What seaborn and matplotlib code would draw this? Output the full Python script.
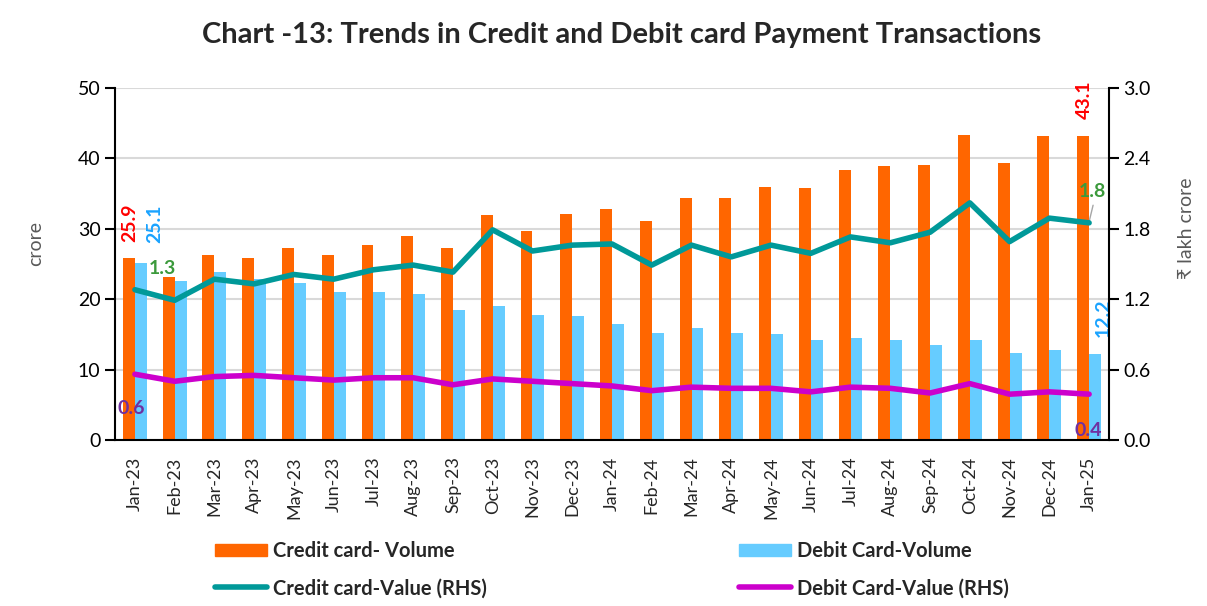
import os

os.makedirs(".matplotlib", exist_ok=True)
os.environ["MPLCONFIGDIR"] = os.path.abspath(".matplotlib")

import numpy as np
import pandas as pd
import seaborn as sns

import matplotlib.pyplot as plt
from matplotlib.lines import Line2D
from matplotlib.patches import Patch

plt.switch_backend("Agg")

# Chart data
months = [
    "Jan-23", "Feb-23", "Mar-23", "Apr-23", "May-23", "Jun-23", "Jul-23", "Aug-23",
    "Sep-23", "Oct-23", "Nov-23", "Dec-23", "Jan-24", "Feb-24", "Mar-24", "Apr-24",
    "May-24", "Jun-24", "Jul-24", "Aug-24", "Sep-24", "Oct-24", "Nov-24", "Dec-24",
    "Jan-25",
]
credit_volume = [
    25.9, 23.2, 26.3, 25.9, 27.3, 26.3, 27.7, 29.0, 27.3, 32.0, 29.7, 32.1, 32.8,
    31.1, 34.4, 34.4, 35.9, 35.8, 38.4, 38.9, 39.1, 43.3, 39.3, 43.2, 43.1,
]
debit_volume = [
    25.1, 22.6, 23.8, 22.9, 22.3, 21.0, 21.0, 20.7, 18.4, 19.0, 17.7, 17.6, 16.4,
    15.2, 15.9, 15.2, 15.0, 14.2, 14.5, 14.2, 13.5, 14.2, 12.3, 12.8, 12.2,
]
credit_value = [
    1.28, 1.19, 1.37, 1.33, 1.41, 1.37, 1.45, 1.49, 1.43, 1.79, 1.61, 1.66, 1.67,
    1.49, 1.66, 1.56, 1.66, 1.59, 1.73, 1.68, 1.77, 2.02, 1.69, 1.89, 1.85,
]
debit_value = [
    0.56, 0.50, 0.54, 0.55, 0.53, 0.51, 0.53, 0.53, 0.47, 0.52, 0.50, 0.48, 0.46,
    0.42, 0.45, 0.44, 0.44, 0.41, 0.45, 0.44, 0.40, 0.48, 0.39, 0.41, 0.39,
]

series_names = ["Credit card- Volume", "Debit Card-Volume",
                "Credit card-Value (RHS)", "Debit Card-Value (RHS)"]
ORANGE = "#FF6600"
SKY = "#66CCFF"
TEAL = "#009999"
MAGENTA = "#CC00CC"


def main():
    sns.set_theme(style="white")
    plt.rcParams["font.family"] = ["Lato", "DejaVu Sans"]

    vol_df = pd.DataFrame({
        "Month": months * 2,
        "Volume": credit_volume + debit_volume,
        "Series": [series_names[0]] * len(months) + [series_names[1]] * len(months),
    })
    val_df = pd.DataFrame({
        "Month": months,
        "Credit": credit_value,
        "Debit": debit_value,
    })

    fig = plt.figure(figsize=(12.07, 6.06), dpi=100)
    ax = fig.add_axes([0.0953, 0.274, 0.8235, 0.581])

    sns.barplot(data=vol_df, x="Month", y="Volume", hue="Series",
                palette=[ORANGE, SKY], width=0.6, ax=ax, legend=False,
                saturation=1, linewidth=0, zorder=2)

    ax2 = ax.twinx()
    sns.lineplot(data=val_df, x="Month", y="Credit", color=TEAL, lw=4,
                 sort=False, ax=ax2, zorder=3)
    sns.lineplot(data=val_df, x="Month", y="Debit", color=MAGENTA, lw=4,
                 sort=False, ax=ax2, zorder=3)

    ax.set_xlim(-0.5, len(months) - 0.5)
    ax.set_ylim(0, 50)
    ax.set_yticks(np.arange(0, 51, 10))
    ax2.set_ylim(0, 3.0)
    ax2.set_yticks(np.arange(0, 3.01, 0.6))
    ax2.set_yticklabels([f"{v:.1f}" for v in np.arange(0, 3.01, 0.6)])

    ax.yaxis.grid(True, color="#D9D9D9", lw=1.5)
    ax.set_axisbelow(True)
    for a in (ax, ax2):
        a.spines["top"].set_visible(False)
        for s in ("left", "right", "bottom"):
            a.spines[s].set_color("black")
            a.spines[s].set_linewidth(1.5)
    ax.spines["right"].set_visible(False)
    ax2.spines["left"].set_visible(False)
    ax2.spines["bottom"].set_visible(False)

    ax.tick_params(axis="y", which="major", left=True, length=7, width=1.5,
                   labelsize=14, colors="black")
    ax2.tick_params(axis="y", which="major", right=True, length=7, width=1.5,
                    labelsize=14, colors="black")
    ax.tick_params(axis="x", bottom=False, labelsize=13, rotation=90, pad=6)

    ax.set_xlabel("")
    ax.set_ylabel("crore", color="#595959", fontsize=14)
    ax.yaxis.set_label_coords(-0.071, 0.557)
    ax2.set_ylabel("₹ lakh crore", color="#595959", fontsize=14)
    ax2.yaxis.set_label_coords(1.069, 0.602)

    # data labels at the ends of the series
    ax.text(-0.13, 28.1, "25.9", color="#FF0000", fontsize=14, fontweight="bold",
            rotation=90, ha="center", va="bottom")
    ax.text(0.5, 28.0, "25.1", color="#1AA3FF", fontsize=14, fontweight="bold",
            rotation=90, ha="center", va="bottom")
    ax2.text(0.35, 1.46, "1.3", color="#3C9A3C", fontsize=14, fontweight="bold",
             ha="left", va="center")
    ax.text(-0.1, 4.4, "0.6", color="#7030A0", fontsize=14, fontweight="bold",
            ha="center", va="center")
    ax.text(23.88, 45.6, "43.1", color="#FF0000", fontsize=14, fontweight="bold",
            rotation=90, ha="center", va="bottom")
    ax.text(24.35, 14.6, "12.2", color="#1AA3FF", fontsize=14, fontweight="bold",
            rotation=90, ha="center", va="bottom")
    ax2.text(24.07, 2.12, "1.8", color="#3C9A3C", fontsize=14, fontweight="bold",
             ha="center", va="center")
    ax2.plot([24.0, 24.1], [1.86, 2.0], color="#A6A6A6", lw=1)
    ax.text(23.97, 1.4, "0.4", color="#7030A0", fontsize=14, fontweight="bold",
            ha="center", va="center")

    fig.text(0.515, 0.942, "Chart -13: Trends in Credit and Debit card Payment Transactions",
             ha="center", va="center", fontsize=21, fontweight="bold")

    handles = [
        Patch(color=ORANGE),
        Line2D([], [], color=TEAL, lw=4, solid_capstyle="round"),
        Patch(color=SKY),
        Line2D([], [], color=MAGENTA, lw=4, solid_capstyle="round"),
    ]
    labels = [series_names[0], series_names[2], series_names[1], series_names[3]]
    fig.legend(handles, labels, ncol=2, loc="center", bbox_to_anchor=(0.507, 0.06),
               frameon=False, prop={"weight": "bold", "size": 14.5},
               columnspacing=12.5, handlelength=2.6, handleheight=0.6,
               handletextpad=0.3, labelspacing=0.85)

    fig.savefig("out.png", dpi=100)
    plt.close(fig)


if __name__ == "__main__":
    main()
